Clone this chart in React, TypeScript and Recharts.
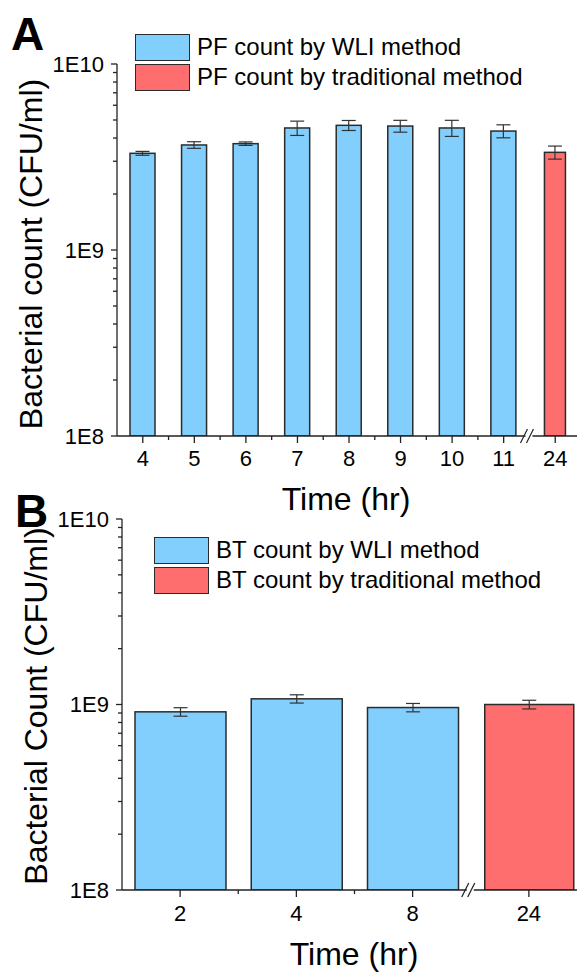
import React from 'react';
import { BarChart, Bar, XAxis, YAxis, ErrorBar } from 'recharts';

// ---------- data ----------
const timesA = ['4', '5', '6', '7', '8', '9', '10', '11', '24'];
const countsA = [3.31e9, 3.67e9, 3.73e9, 4.53e9, 4.68e9, 4.64e9, 4.53e9, 4.36e9, 3.35e9];
const errorsA = [0.08e9, 0.15e9, 0.08e9, 0.4e9, 0.29e9, 0.34e9, 0.45e9, 0.35e9, 0.27e9];
const methodsA = ['WLI', 'WLI', 'WLI', 'WLI', 'WLI', 'WLI', 'WLI', 'WLI', 'traditional'];

const timesB = ['2', '4', '8', '24'];
const countsB = [0.913e9, 1.073e9, 0.963e9, 1.0e9];
const errorsB = [0.048e9, 0.055e9, 0.05e9, 0.054e9];
const methodsB = ['WLI', 'WLI', 'WLI', 'traditional'];

const legendA = ['PF count by WLI method', 'PF count by traditional method'];
const legendB = ['BT count by WLI method', 'BT count by traditional method'];

const yExponents = [8, 9, 10];
const yDomain = [1e8, 1e10];

// ---------- style ----------
const FONT = '"Liberation Sans", Arial, sans-serif';
const BLUE = '#82CFFE';
const RED = '#FF6E6E';
const EDGE = '#2b2b2b';
const AXIS = '#222';
const TICK_FONT = 22;

const logTicks: number[] = [];
yExponents.forEach((e, i) => {
  if (i < yExponents.length - 1) {
    for (let m = 1; m <= 9; m++) logTicks.push(m * Math.pow(10, e));
  } else {
    logTicks.push(Math.pow(10, e));
  }
});

const LogTick = (props: any) => {
  const { x, y, payload } = props;
  const v = payload.value;
  const lg = Math.log10(v);
  const major = Math.abs(lg - Math.round(lg)) < 1e-6;
  return (
    <g>
      <line x1={x - (major ? 6 : 4)} x2={x} y1={y} y2={y} stroke={AXIS} strokeWidth={1.3} />
      {major && (
        <text x={x - 13} y={y} dy="0.36em" textAnchor="end" fontSize={TICK_FONT} fontFamily={FONT} fill="#000">
          {`1E${Math.round(lg)}`}
        </text>
      )}
    </g>
  );
};

const CatTick = (props: any) => {
  const { x, y, payload, index, halfBand, count, labelGap } = props;
  const mx = x + halfBand;
  return (
    <g>
      <line x1={x} x2={x} y1={y} y2={y + 7} stroke={AXIS} strokeWidth={1.3} />
      <text x={x} y={y + labelGap} dy="0.71em" textAnchor="middle" fontSize={TICK_FONT} fontFamily={FONT} fill="#000">
        {payload.value}
      </text>
      {index < count - 2 && <line x1={mx} x2={mx} y1={y} y2={y + 4} stroke={AXIS} strokeWidth={1.3} />}
      {index === count - 2 && (
        <g>
          <rect x={mx - 4} y={y - 2} width={7} height={4} fill="#fff" />
          <line x1={mx - 9} y1={y + 7} x2={mx - 2} y2={y - 7} stroke={AXIS} strokeWidth={1.2} />
          <line x1={mx - 3} y1={y + 7} x2={mx + 4} y2={y - 7} stroke={AXIS} strokeWidth={1.2} />
        </g>
      )}
    </g>
  );
};

type PanelProps = {
  times: string[];
  counts: number[];
  errors: number[];
  methods: string[];
  width: number;
  height: number;
  top: number;
  marginTop: number;
  marginBottom: number;
  marginRight: number;
  yAxisWidth: number;
  barSize: number;
  tradBarSize: number;
  labelGap: number;
};

function Panel(p: PanelProps) {
  const data = p.times.map((t, i) => ({
    time: t,
    count: p.counts[i],
    err: p.errors[i],
    method: p.methods[i],
  }));
  const n = p.times.length;
  const plotWidth = p.width - p.yAxisWidth - p.marginRight;
  const halfBand = plotWidth / n / 2;

  const shape = (s: any) => {
    const trad = s.payload && s.payload.method === 'traditional';
    const w = trad ? p.tradBarSize : s.width;
    const x = s.x + (s.width - w) / 2;
    return (
      <rect
        x={x}
        y={s.y}
        width={w}
        height={s.height}
        fill={trad ? RED : BLUE}
        stroke={EDGE}
        strokeWidth={1.5}
      />
    );
  };

  return (
    <div style={{ position: 'absolute', left: 0, top: p.top }}>
      <BarChart
        width={p.width}
        height={p.height}
        data={data}
        margin={{ top: p.marginTop, right: p.marginRight, bottom: p.marginBottom, left: 0 }}
      >
        <XAxis
          dataKey="time"
          type="category"
          height={30}
          interval={0}
          tickSize={0}
          tickMargin={0}
          tickLine={false}
          tick={(tp: any) => <CatTick {...tp} halfBand={halfBand} count={n} labelGap={p.labelGap} />}
          axisLine={{ stroke: AXIS, strokeWidth: 1.3 }}
        />
        <YAxis
          type="number"
          scale="log"
          domain={yDomain}
          allowDataOverflow
          ticks={logTicks}
          interval={0}
          width={p.yAxisWidth}
          tickSize={0}
          tickMargin={0}
          tickLine={false}
          axisLine={{ stroke: AXIS, strokeWidth: 1.3 }}
          tick={(tp: any) => <LogTick {...tp} />}
        />
        <Bar dataKey="count" barSize={p.barSize} isAnimationActive={false} shape={shape}>
          <ErrorBar dataKey="err" width={7} stroke="#333" strokeWidth={1.2} direction="y" />
        </Bar>
      </BarChart>
    </div>
  );
}

function LegendBox({ left, top, labels }: { left: number; top: number; labels: string[] }) {
  const colors = [BLUE, RED];
  return (
    <div style={{ position: 'absolute', left, top }}>
      {labels.map((l, i) => (
        <div key={l} style={{ display: 'flex', alignItems: 'center', height: 30 }}>
          <div
            style={{
              width: 55,
              height: 27,
              boxSizing: 'border-box',
              border: `1.5px solid ${EDGE}`,
              background: colors[i],
            }}
          />
          <span style={{ marginLeft: 7, fontSize: 24, fontFamily: FONT, color: '#000', whiteSpace: 'nowrap' }}>{l}</span>
        </div>
      ))}
    </div>
  );
}

export default function App() {
  return (
    <div
      style={{
        position: 'absolute',
        left: 0,
        top: 0,
        width: 577,
        height: 972,
        overflow: 'hidden',
        background: '#fff',
      }}
    >
      <Panel
        times={timesA}
        counts={countsA}
        errors={errorsA}
        methods={methodsA}
        width={585}
        height={480}
        top={0}
        marginTop={64}
        marginBottom={14}
        marginRight={4}
        yAxisWidth={117}
        barSize={25}
        tradBarSize={21}
        labelGap={14}
      />
      <Panel
        times={timesB}
        counts={countsB}
        errors={errorsB}
        methods={methodsB}
        width={590}
        height={512}
        top={460}
        marginTop={59}
        marginBottom={52}
        marginRight={3}
        yAxisWidth={122}
        barSize={91}
        tradBarSize={89}
        labelGap={15}
      />
      <LegendBox left={135} top={32} labels={legendA} />
      <LegendBox left={154} top={535} labels={legendB} />
      <svg
        width={577}
        height={972}
        style={{ position: 'absolute', left: 0, top: 0, pointerEvents: 'none' }}
      >
        <text x={11} y={50} fontSize={46} fontWeight="bold" fontFamily={FONT} fill="#000">A</text>
        <text x={15} y={527} fontSize={46} fontWeight="bold" fontFamily={FONT} fill="#000">B</text>
        <text transform="translate(42,254) rotate(-90)" textAnchor="middle" fontSize={32} fontFamily={FONT} fill="#000">
          Bacterial count (CFU/ml)
        </text>
        <text transform="translate(47,706) rotate(-90)" textAnchor="middle" fontSize={32} fontFamily={FONT} fill="#000">
          Bacterial Count (CFU/ml)
        </text>
        <text x={346} y={510} textAnchor="middle" fontSize={32} fontFamily={FONT} fill="#000">Time (hr)</text>
        <text x={354} y={965} textAnchor="middle" fontSize={32} fontFamily={FONT} fill="#000">Time (hr)</text>
      </svg>
    </div>
  );
}
